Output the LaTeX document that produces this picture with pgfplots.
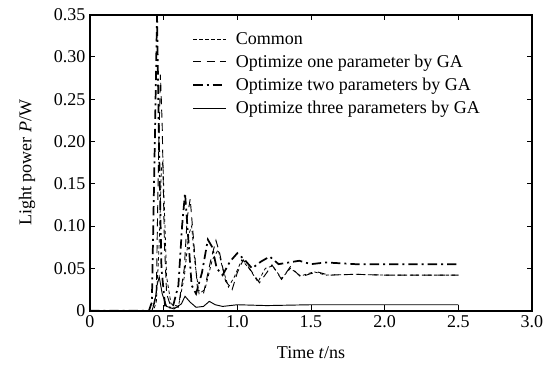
\documentclass[border=0pt]{standalone}
\usepackage{pgfplots}
\pgfplotsset{compat=1.18}
\usepackage{fontspec}
\setmainfont{Liberation Serif}
\begin{document}
\begin{tikzpicture}
\useasboundingbox (-67.5pt,-42pt) rectangle (351pt,233pt);
\begin{axis}[
  at={(0,0)}, anchor=south west,
  scale only axis, width=331.5pt, height=222pt,
  xmin=0, xmax=3, ymin=0, ymax=0.35,
  xtick={0,0.5,1,1.5,2,2.5,3},
  xticklabels={0,0.5,1.0,1.5,2.0,2.5,3.0},
  ytick={0,0.05,0.1,0.15,0.2,0.25,0.3,0.35},
  yticklabels={0,0.05,0.10,0.15,0.20,0.25,0.30,0.35},
  /pgf/number format/assume math mode=true,
  tick label style={font=\fontsize{13.5}{14.5}\selectfont},
  label style={font=\fontsize{13.5}{14.5}\selectfont},
  xlabel={Time \textit{t}/ns}, ylabel={Light power \textit{P}/W},
  xlabel style={yshift=-7pt},
  ylabel style={yshift=7pt},
  axis line style={line width=1.4pt},
  tick style={black, line width=0.7pt},
  major tick length=4pt,
  legend style={draw=none, fill=none, at={(0.222,0.96)}, anchor=north west,
    font=\fontsize{13.5}{14.5}\selectfont, row sep=2.5pt},
  legend cell align=left,
  legend image code/.code={\draw[#1] (0cm,0cm) -- (0.85cm,0cm); \path[draw=none] (1.05cm,0cm) circle (0.1pt);},
]
% Common
\addplot[black, line width=0.6pt, dash pattern=on 2.5pt off 2pt] coordinates {
(0,0) (0.43,0) (0.45,0.01) (0.47,0.08) (0.485,0.17) (0.495,0.176) (0.505,0.12) (0.52,0.04) (0.55,0.008) (0.60,0.005)
(0.64,0.04) (0.67,0.09) (0.69,0.10) (0.71,0.06) (0.74,0.02) (0.78,0.025) (0.83,0.06) (0.87,0.072) (0.90,0.05)
(0.94,0.028) (0.98,0.04) (1.03,0.06) (1.08,0.05) (1.14,0.034) (1.19,0.05) (1.24,0.053) (1.30,0.038) (1.36,0.05)
(1.43,0.041) (1.52,0.046) (1.6,0.042) (1.8,0.043) (2.0,0.042) (2.5,0.042)};
% one parameter
\addplot[black, line width=0.7pt, dash pattern=on 6pt off 4pt] coordinates {
(0,0) (0.42,0) (0.45,0.02) (0.465,0.18) (0.478,0.279) (0.49,0.22) (0.505,0.08) (0.52,0.02) (0.55,0.004) (0.60,0.004)
(0.64,0.05) (0.66,0.11) (0.68,0.132) (0.70,0.09) (0.73,0.025) (0.77,0.02) (0.82,0.06) (0.855,0.083) (0.88,0.068)
(0.92,0.035) (0.965,0.025) (1.0,0.045) (1.04,0.06) (1.09,0.048) (1.15,0.033) (1.2,0.045) (1.235,0.054) (1.27,0.045)
(1.30,0.037) (1.36,0.052) (1.43,0.04) (1.54,0.046) (1.62,0.042) (1.8,0.043) (2.0,0.042) (2.5,0.042)};
% two parameters
\addplot[black, line width=1.3pt, dash pattern=on 7pt off 3pt on 1.5pt off 3pt] coordinates {
(0,0) (0.40,0) (0.42,0.01) (0.44,0.2) (0.455,0.35) (0.468,0.2) (0.485,0.05) (0.51,0.005) (0.56,0.003)
(0.60,0.03) (0.625,0.10) (0.645,0.139) (0.665,0.09) (0.69,0.03) (0.72,0.02) (0.76,0.045) (0.80,0.084) (0.83,0.075)
(0.86,0.05) (0.90,0.042) (0.95,0.058) (1.0,0.068) (1.05,0.06) (1.10,0.05) (1.16,0.058) (1.22,0.064) (1.28,0.055)
(1.35,0.057) (1.42,0.059) (1.5,0.055) (1.6,0.057) (1.7,0.056) (1.8,0.055) (2.0,0.055) (2.5,0.055)};
% three parameters
\addplot[black, line width=0.7pt] coordinates {
(0,0) (0.42,0) (0.44,0.01) (0.455,0.03) (0.47,0.04) (0.49,0.02) (0.52,0.005) (0.57,0.002) (0.62,0.008) (0.645,0.017)
(0.68,0.01) (0.72,0.004) (0.77,0.005) (0.81,0.011) (0.85,0.007) (0.9,0.005) (1.0,0.007) (1.2,0.006) (1.5,0.007)
(2.0,0.007) (2.5,0.007)};
\legend{Common, Optimize one parameter by GA, Optimize two parameters by GA, Optimize three parameters by GA}
\end{axis}
\end{tikzpicture}
\end{document}
